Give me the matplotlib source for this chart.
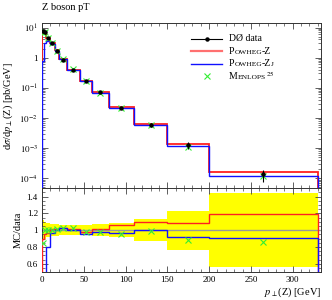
"""Z boson pT: D0 data vs Powheg-Z / Powheg-Zj / Menlops, with MC/data ratio panel."""

import matplotlib

matplotlib.use("Agg")
import matplotlib.pyplot as plt
import numpy as np
from matplotlib.lines import Line2D
from matplotlib.offsetbox import (AnchoredOffsetbox, DrawingArea, HPacker,
                                  TextArea, VPacker)
from matplotlib.ticker import FixedLocator, FuncFormatter, MultipleLocator

plt.rcParams["font.family"] = ["Liberation Serif", "DejaVu Serif"]
plt.rcParams["mathtext.fontset"] = "stix"

# bin edges [GeV]
edges = [0, 2.5, 5, 10, 15, 20, 30, 45, 60, 80, 110, 150, 200, 330]

# D0 data [pb/GeV] and absolute uncertainties
data = [7.5, 7.0, 4.6, 3.0, 1.7, 0.85, 0.40, 0.17, 0.070, 0.022, 0.0058, 0.00125, 1.35e-4]
data_err = [0.9, 0.7, 0.37, 0.21, 0.12, 0.051, 0.024, 0.010, 0.0049, 0.0018,
            0.00075, 0.00029, 5.9e-5]

# MC predictions [pb/GeV]
powheg_z = [6.68, 6.69, 4.42, 3.03, 1.73, 0.876, 0.404, 0.167, 0.0707, 0.0233,
            0.00638, 0.00136, 1.61e-4]
powheg_zj = [0.80, 3.08, 3.68, 2.88, 1.70, 0.876, 0.400, 0.162, 0.0686, 0.0213,
             0.0058, 0.00114, 1.23e-4]
menlops = [6.38, 7.0, 4.6, 3.0, 1.72, 0.876, 0.408, 0.167, 0.0686, 0.0211,
           0.00574, 0.0011, 1.16e-4]

RED = "#ff2020"
BLUE = "#1010ff"
GREEN = "#33ee33"

edges_a = np.asarray(edges, dtype=float)
centers = 0.5 * (edges_a[:-1] + edges_a[1:])
data_a = np.asarray(data)
err_a = np.asarray(data_err)

fig = plt.figure(figsize=(3.32, 3.00), dpi=100)
ax = fig.add_axes([0.1265, 0.373, 0.8405, 0.550])
axr = fig.add_axes([0.1265, 0.093, 0.8405, 0.280], sharex=ax)

# --- main panel
ax.stairs(powheg_z, edges, color=RED, lw=1.3, zorder=3)
ax.stairs(powheg_zj, edges, color=BLUE, lw=1.0, zorder=4)
ax.plot(centers, menlops, ls="none", marker="x", ms=4.5, mew=0.8, color=GREEN, zorder=5)
ax.errorbar(centers, data, yerr=err_a, fmt="o", ms=2.2, color="black",
            elinewidth=0.8, capsize=0, zorder=6)
ax.set_yscale("log")
ax.set_ylim(4.7e-5, 14)
ax.set_xlim(0, 334)


def log_fmt(v, _pos):
    e = int(round(np.log10(v)))
    if e == 0:
        return "1"
    return r"$10^{%d}$" % e


ax.yaxis.set_major_locator(FixedLocator([1e-4, 1e-3, 1e-2, 1e-1, 1, 10]))
ax.yaxis.set_major_formatter(FuncFormatter(log_fmt))
ax.set_ylabel(r"d$\sigma$/d$p_\perp$(Z) [pb/GeV]", fontsize=7.5, labelpad=3)
ax.tick_params(labelbottom=False)
ax.text(0.0, 1.07, "Z boson pT", transform=ax.transAxes, fontsize=7.5,
        ha="left", va="bottom")

# --- ratio panel
ratio_z = np.asarray(powheg_z) / data_a
ratio_zj = np.asarray(powheg_zj) / data_a
ratio_m = np.asarray(menlops) / data_a
rel_err = err_a / data_a
axr.stairs(1 + rel_err, edges, baseline=1 - rel_err, fill=True,
           color="#ffff00", lw=0, zorder=1)
axr.axhline(1, color="#999999", lw=1.0, zorder=2)
axr.stairs(ratio_z, edges, color=RED, lw=1.0, zorder=3)
axr.stairs(ratio_zj, edges, color=BLUE, lw=1.0, zorder=4)
axr.plot(centers, ratio_m, ls="none", marker="x", ms=4.5, mew=0.8, color=GREEN, zorder=5)
axr.set_ylim(0.5, 1.5)
axr.yaxis.set_major_locator(FixedLocator([0.6, 0.8, 1.0, 1.2, 1.4]))
axr.yaxis.set_major_formatter(FuncFormatter(lambda v, _p: "%g" % v))
axr.yaxis.set_minor_locator(MultipleLocator(0.05))
axr.set_ylabel("MC/data", fontsize=7.5, labelpad=3)
axr.xaxis.set_major_locator(MultipleLocator(50))
axr.xaxis.set_minor_locator(MultipleLocator(10))
axr.set_xlabel(r"$p_\perp$(Z) [GeV]", fontsize=7.5, loc="right", labelpad=1)

for a in (ax, axr):
    a.tick_params(which="both", direction="in", top=True, right=True,
                  labelsize=6.5, color="#444444", pad=3)
    a.tick_params(which="major", length=4.5, width=0.6)
    a.tick_params(which="minor", length=2.5, width=0.5)
    for sp in a.spines.values():
        sp.set_linewidth(0.7)
        sp.set_color("#333333")

# --- legend with small caps labels
BIG, SMALL = 7, 5.4


def label_box(parts):
    boxes = [TextArea(t, textprops=dict(size=s)) for t, s in parts]
    return HPacker(children=boxes, align="baseline", pad=0, sep=0)


def handle_box(kind):
    da = DrawingArea(22, 6, 0, 0)
    if kind == "data":
        da.add_artist(Line2D([0, 22], [3, 3], color="black", lw=0.8))
        da.add_artist(Line2D([11], [3], marker="o", ms=2.2, color="black"))
    elif kind == "marker":
        da.add_artist(Line2D([11], [3], marker="x", ms=4.5, mew=0.8, color=GREEN))
    else:
        da.add_artist(Line2D([0, 22], [3, 3], color=kind[0], lw=kind[1]))
    return da


entries = [
    ("data", [("DØ data", BIG)]),
    (("#ff7070", 1.6), [("P", BIG), ("OWHEG", SMALL), ("-Z", BIG)]),
    ((BLUE, 1.0), [("P", BIG), ("OWHEG", SMALL), ("-Z", BIG), ("J", SMALL)]),
    ("marker", [("M", BIG), ("ENLOPS", SMALL), (r"$^{25}$", BIG)]),
]
rows = [HPacker(children=[handle_box(k), label_box(p)], align="center", pad=0, sep=5)
        for k, p in entries]
leg = VPacker(children=rows, align="left", pad=0, sep=2.5)
anch = AnchoredOffsetbox(loc="upper left", child=leg, pad=0, frameon=False,
                         bbox_to_anchor=(0.51, 0.975), bbox_transform=ax.transAxes)
ax.add_artist(anch)

fig.savefig("out.png", dpi=100)
